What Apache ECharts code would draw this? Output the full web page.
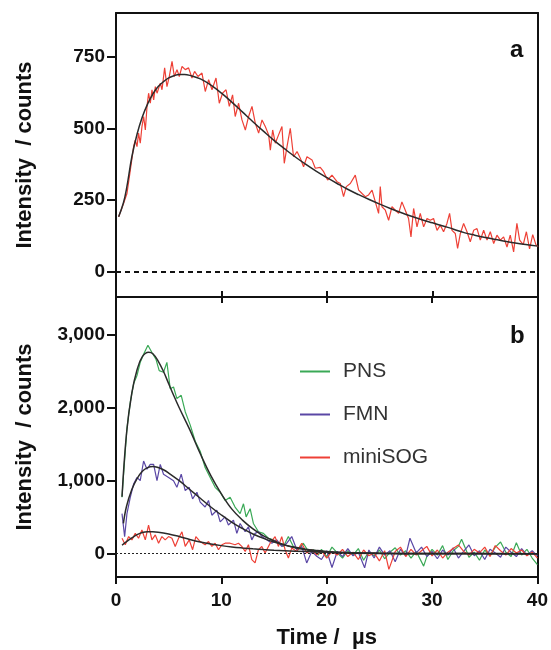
<!DOCTYPE html>
<html>
<head>
<meta charset="utf-8">
<title>Phosphorescence decay</title>
<script src="https://cdn.jsdelivr.net/npm/echarts@6/dist/echarts.min.js"></script>
<style>
  html, body { margin: 0; padding: 0; background: #fff; }
  #main { width: 551px; height: 650px; }
</style>
</head>
<body>
<div id="main"></div>
<script>
// panel a: miniSOG trace (time in us, counts)
var traceA = [
  [0.25, 192], [0.72, 239], [1.04, 273], [1.36, 355], [1.67, 436], [1.83, 459], [1.99, 436], [2.14, 483],
  [2.3, 448], [2.46, 506], [2.62, 541], [2.78, 494], [2.94, 576], [3.09, 622], [3.25, 587], [3.41, 634],
  [3.57, 599], [3.73, 645], [3.89, 622], [4.2, 657], [4.36, 634], [4.61, 710], [4.83, 645], [5.05, 680],
  [5.31, 733], [5.53, 680], [5.78, 704], [6.0, 680], [6.26, 715], [6.57, 704], [6.88, 710], [7.2, 675],
  [7.45, 698], [7.77, 680], [8.15, 692], [8.46, 628], [8.78, 669], [9.1, 634], [9.48, 675], [9.79, 587],
  [10.1, 622], [10.43, 634], [10.74, 576], [11.05, 616], [11.3, 541], [11.62, 587], [11.94, 529],
  [12.26, 494], [12.57, 541], [12.89, 576], [13.2, 518], [13.52, 483], [13.84, 529], [14.15, 506],
  [14.47, 477], [14.63, 424], [14.85, 494], [15.1, 448], [15.41, 477], [15.73, 506], [15.95, 378],
  [16.21, 436], [16.52, 500], [16.83, 401], [17.16, 419], [17.47, 396], [17.78, 366], [18.1, 401],
  [18.58, 390], [18.89, 361], [19.36, 364], [19.68, 349], [20.06, 320], [20.47, 337], [20.95, 314],
  [21.26, 308], [21.57, 262], [21.83, 297], [22.21, 308], [22.68, 337], [23.0, 285], [23.32, 273],
  [23.63, 262], [23.94, 268], [24.27, 285], [24.58, 244], [24.89, 204], [25.05, 297], [25.21, 227],
  [25.53, 215], [25.84, 180], [26.16, 227], [26.47, 215], [26.79, 204], [27.1, 244], [27.42, 215],
  [27.73, 186], [27.96, 122], [28.21, 221], [28.53, 157], [28.84, 204], [29.16, 157], [29.48, 186],
  [29.79, 180], [30.1, 186], [30.43, 145], [30.74, 163], [31.05, 140], [31.37, 169], [31.62, 204],
  [31.85, 145], [32.16, 134], [32.38, 82], [32.64, 134], [32.95, 169], [33.27, 140], [33.58, 105],
  [33.9, 145], [34.22, 151], [34.53, 111], [34.85, 145], [35.17, 111], [35.48, 140], [35.8, 99],
  [36.11, 128], [36.43, 111], [36.74, 122], [37.06, 87], [37.37, 128], [37.69, 70], [38.0, 169],
  [38.26, 111], [38.6, 95], [38.9, 140], [39.2, 80], [39.5, 130], [39.8, 95], [40.0, 88]
];
var fitA = [
  [0.25, 192], [0.7, 240], [1.0, 290], [1.5, 400], [2.0, 480], [2.5, 540], [3, 585], [3.5, 620],
  [4, 645], [4.5, 662], [5, 675], [5.5, 683], [6, 687], [6.5, 687], [7, 684], [8, 672], [9, 650],
  [10, 622], [11, 590], [12, 556], [13, 522], [14, 489], [15, 457], [16, 428], [17, 400], [18, 374],
  [19, 350], [20, 328], [21, 307], [22, 287], [23, 269], [24, 252], [25, 236], [26, 221], [27, 207],
  [28, 194], [29, 182], [30, 171], [31, 160], [32, 149], [33, 137], [34, 128], [35, 120], [36, 113],
  [37, 106], [38, 100], [39, 95], [40, 90]
];

// panel b traces
var pnsData = [
  [0.57, 774], [0.72, 1090], [1.04, 1720], [1.36, 2081], [1.67, 2328], [1.99, 2440], [2.3, 2622],
  [2.62, 2734], [3.03, 2856], [3.41, 2757], [3.79, 2666], [4.1, 2508], [4.51, 2486], [4.83, 2622],
  [5.15, 2261], [5.46, 2284], [5.78, 2126], [6.19, 2170], [6.57, 1946], [7.04, 1765], [7.52, 1541],
  [7.99, 1405], [8.46, 1180], [8.94, 1045], [9.41, 909], [9.89, 842], [10.36, 730], [10.83, 774],
  [11.3, 639], [11.78, 549], [12.1, 684], [12.35, 504], [12.73, 616], [13.04, 414], [13.52, 301],
  [13.99, 278], [14.47, 211], [14.94, 189], [15.41, 143], [15.89, 99], [16.36, 234], [16.83, 99],
  [17.31, 54], [17.78, 143], [18.26, 31], [18.73, 54], [19.2, -20], [19.5, 60], [20, -40], [20.5, 90],
  [21, 10], [21.5, -60], [22, 40], [22.5, -20], [23, 70], [23.5, -90], [24, 30], [24.5, -30], [25, 50],
  [25.5, -70], [26, 20], [26.5, 80], [27, -20], [27.5, 40], [28, -60], [28.5, 30], [29.2, -171],
  [29.5, -40], [30, 60], [30.5, -20], [31, 110], [31.5, -80], [32, 40], [32.5, 100], [32.8, 198],
  [33.2, 60], [33.5, -50], [34, 20], [34.5, -90], [35, 50], [35.5, -30], [36, 90], [36.5, 160],
  [37, 20], [37.5, -40], [38, 150], [38.5, -20], [39, 60], [39.5, -60], [40, -150]
];
var fmnData = [
  [0.57, 549], [0.82, 234], [1.04, 549], [1.36, 774], [1.67, 954], [1.99, 1045], [2.3, 1000],
  [2.62, 1270], [2.94, 1157], [3.25, 1224], [3.57, 1224], [3.89, 1000], [4.2, 1224], [4.51, 1089],
  [4.99, 1045], [5.46, 1000], [5.78, 909], [6.19, 1089], [6.57, 865], [6.95, 909], [7.27, 751],
  [7.68, 842], [7.99, 707], [8.46, 639], [8.78, 730], [9.1, 527], [9.57, 595], [9.89, 436],
  [10.36, 504], [10.67, 392], [11.15, 459], [11.47, 278], [11.78, 414], [12.26, 301], [12.57, 369],
  [12.89, 189], [13.2, 278], [13.52, 301], [13.84, 234], [14.31, 189], [14.79, 143], [15.26, 189],
  [15.73, 99], [16.21, 143], [16.68, 234], [17.16, 54], [17.63, 99], [18.1, -127], [18.58, 31],
  [19.05, -36], [19.5, -80], [20, 40], [20.5, -190], [21, 30], [21.5, -40], [22, 70], [22.5, -30],
  [23, 20], [23.6, -194], [24, 50], [24.5, -60], [25, 90], [25.5, -20], [26, 40], [26.5, -110],
  [27, 60], [27.5, -30], [27.9, 211], [28.5, 10], [29, 90], [29.5, -40], [30, 30], [30.5, -70],
  [31, 50], [31.5, -20], [32, 80], [32.5, -60], [33, 30], [33.5, 120], [34, -30], [34.5, 40],
  [35, -80], [35.5, 60], [36, 10], [36.5, -50], [37, 90], [37.5, 20], [38, -40], [38.5, 70],
  [39, -20], [39.5, 40], [40, -30]
];
var sogData = [
  [0.57, 211], [0.88, 122], [1.2, 234], [1.51, 189], [1.83, 278], [2.14, 211], [2.46, 324],
  [2.78, 189], [3.09, 390], [3.41, 189], [3.73, 257], [4.04, 143], [4.36, 234], [4.67, 189],
  [4.99, 234], [5.31, 211], [5.62, 99], [5.94, 211], [6.26, 300], [6.57, 99], [6.95, 189], [7.27, 54],
  [7.58, 234], [7.99, 166], [8.46, 122], [8.78, 166], [9.1, 99], [9.41, 143], [9.73, 54],
  [10.05, 122], [10.36, 143], [10.83, 143], [11.3, 122], [11.62, 143], [11.94, 99], [12.26, 31],
  [12.57, 122], [12.89, -81], [13.2, -127], [13.52, 54], [13.84, 99], [14.15, 8], [14.63, 143],
  [15.1, 234], [15.41, 99], [15.73, 234], [16.05, 54], [16.36, -59], [16.68, 76], [17.16, 31],
  [17.63, 143], [18.1, 8], [18.58, 54], [19.05, -14], [19.5, 40], [20, -60], [20.5, 30], [21, -20],
  [21.5, 60], [22, -40], [22.5, 20], [23, -80], [23.5, 50], [24, -30], [24.5, 10], [25, -100],
  [25.5, 40], [25.9, -216], [26.5, 30], [27, 90], [27.5, -40], [28, 60], [28.5, -20], [29, 40],
  [29.5, 100], [30, -30], [30.5, 50], [31, -60], [31.5, 20], [32, 70], [32.5, 120], [33, 30],
  [33.5, -20], [34, 60], [34.5, 10], [35, 90], [35.5, -40], [36, 110], [36.5, 40], [37, -20],
  [37.5, 70], [38, 10], [38.5, 50], [39, -30], [39.5, 20], [40, -60]
];
var pnsFit = [
  [0.57, 780], [1.0, 1650], [1.5, 2200], [2.0, 2520], [2.5, 2700], [3.1, 2760], [3.5, 2740],
  [4, 2640], [4.5, 2500], [5, 2330], [5.5, 2160], [6, 2000], [7, 1700], [8, 1370], [9, 1070],
  [10, 820], [11, 610], [12, 460], [13, 340], [14, 245], [15, 175], [16, 120], [17, 80], [18, 52],
  [19, 33], [20, 20], [22, 8], [25, 2], [30, 0], [40, 0]
];
var fmnFit = [
  [0.7, 414], [1.0, 650], [1.5, 880], [2, 1030], [2.5, 1130], [3, 1180], [3.5, 1195], [4, 1180],
  [4.5, 1150], [5, 1105], [6, 1000], [7, 880], [8, 760], [9, 640], [10, 530], [11, 430], [12, 345],
  [13, 270], [14, 210], [15, 160], [16, 120], [17, 88], [18, 62], [19, 44], [20, 30], [22, 14],
  [25, 5], [30, 1], [40, 0]
];
var sogFit = [
  [0.57, 115], [1, 165], [1.5, 215], [2, 260], [2.5, 290], [3, 300], [3.5, 300], [4, 295],
  [5, 270], [6, 235], [7, 195], [8, 160], [9, 132], [10, 110], [11, 92], [12, 78], [13, 66],
  [14, 56], [15, 47], [16, 40], [18, 28], [20, 19], [22, 12], [25, 6], [30, 2], [40, 0]
];

var ticksA = [0, 250, 500, 750];
var ticksB = [0, 1000, 2000, 3000];
var ticksT = [0, 10, 20, 30, 40];

var FONT = 'Liberation Sans';
var chart = echarts.init(document.getElementById('main'));

var lbl = { fontFamily: FONT, fontWeight: 'bold', fontSize: 19, color: '#111' };
var axLine = { show: true, onZero: false, lineStyle: { color: '#111', width: 2 } };
var nameStyle = { fontFamily: FONT, fontWeight: 'bold', fontSize: 22, color: '#111' };

// plain frame side: line only
function frameX(grid, pos, tickInside) {
  return {
    gridIndex: grid, type: 'value', min: 0, max: 40, interval: 10, position: pos,
    axisLine: axLine,
    axisTick: tickInside ? { inside: true, length: 6, lineStyle: { width: 2, color: '#111' } } : { show: false },
    axisLabel: { show: false }, splitLine: { show: false }
  };
}
function frameY(grid, min, max) {
  return {
    gridIndex: grid, type: 'value', min: min, max: max, position: 'right',
    axisLine: axLine, axisTick: { show: false }, axisLabel: { show: false }, splitLine: { show: false }
  };
}

function lineSeries(name, data, color, xi, yi) {
  return {
    name: name, type: 'line', data: data, xAxisIndex: xi, yAxisIndex: yi,
    showSymbol: false, symbol: 'none', silent: true,
    lineStyle: { color: color, width: 1.2 }, itemStyle: { color: color }, z: 2
  };
}
function fitSeries(data, xi, yi) {
  return {
    type: 'line', data: data, xAxisIndex: xi, yAxisIndex: yi, smooth: 0.4,
    showSymbol: false, symbol: 'none', silent: true,
    lineStyle: { color: '#2b2b2b', width: 1.5 }, z: 3
  };
}

var sA = lineSeries('trace', traceA, '#ee4036', 0, 0);
var fA = fitSeries(fitA, 0, 0);
fA.markLine = {
  silent: true, symbol: 'none', label: { show: false },
  lineStyle: { color: '#111', type: [5, 4], width: 2 },
  data: [{ yAxis: 0 }]
};
var fP = fitSeries(pnsFit, 3, 2);
fP.markLine = {
  silent: true, symbol: 'none', label: { show: false },
  lineStyle: { color: '#222', type: [2, 2], width: 1 },
  data: [{ yAxis: 0 }]
};

var option = {
  backgroundColor: '#fff',
  animation: false,
  title: [
    { text: 'a', left: 505, top: 33, textStyle: { fontFamily: FONT, fontWeight: 'bold', fontSize: 24, color: '#111' } },
    { text: 'b', left: 505, top: 319, textStyle: { fontFamily: FONT, fontWeight: 'bold', fontSize: 24, color: '#111' } }
  ],
  legend: {
    orient: 'vertical', left: 295, top: 356,
    icon: 'rect', itemWidth: 30, itemHeight: 2, itemGap: 22,
    data: ['PNS', 'FMN', 'miniSOG'],
    textStyle: { fontFamily: FONT, fontSize: 21, color: '#333', padding: [0, 0, 0, 8] }
  },
  grid: [
    { left: 116, top: 13, width: 422, height: 284 },
    { left: 116, top: 297, width: 422, height: 284 }
  ],
  xAxis: [
    frameX(0, 'bottom', true),
    frameX(0, 'top', false),
    frameX(1, 'top', true),
    { gridIndex: 1, type: 'value', min: 0, max: 40, interval: 10, position: 'bottom',
      axisLine: axLine, axisTick: { length: 7, lineStyle: { width: 2, color: '#111' }, customValues: ticksT },
      axisLabel: Object.assign({ margin: 14, customValues: ticksT }, lbl),
      splitLine: { show: false },
      name: 'Time /  \u00b5s', nameLocation: 'middle', nameGap: 50, nameTextStyle: nameStyle }
  ],
  yAxis: [
    { gridIndex: 0, type: 'value', min: -87, max: 901, position: 'left',
      axisLine: axLine, axisTick: { length: 9, lineStyle: { width: 2, color: '#111' }, customValues: ticksA },
      axisLabel: Object.assign({ margin: 11, customValues: ticksA }, lbl),
      splitLine: { show: false },
      name: 'Intensity  / counts', nameLocation: 'middle', nameGap: 80, nameTextStyle: nameStyle },
    frameY(0, -87, 901),
    { gridIndex: 1, type: 'value', min: -320, max: 3518, position: 'left',
      axisLine: axLine, axisTick: { length: 9, lineStyle: { width: 2, color: '#111' }, customValues: ticksB },
      axisLabel: Object.assign({ margin: 11, customValues: ticksB,
        formatter: function (v) { return v.toLocaleString('en-US'); } }, lbl),
      splitLine: { show: false },
      name: 'Intensity  / counts', nameLocation: 'middle', nameGap: 80, nameTextStyle: nameStyle },
    frameY(1, -320, 3518)
  ],
  series: [
    sA, fA,
    lineSeries('PNS', pnsData, '#3aa956', 3, 2),
    lineSeries('FMN', fmnData, '#5a47a5', 3, 2),
    lineSeries('miniSOG', sogData, '#ee4036', 3, 2),
    fP,
    fitSeries(fmnFit, 3, 2),
    fitSeries(sogFit, 3, 2)
  ]
};

chart.setOption(option);
</script>
</body>
</html>
